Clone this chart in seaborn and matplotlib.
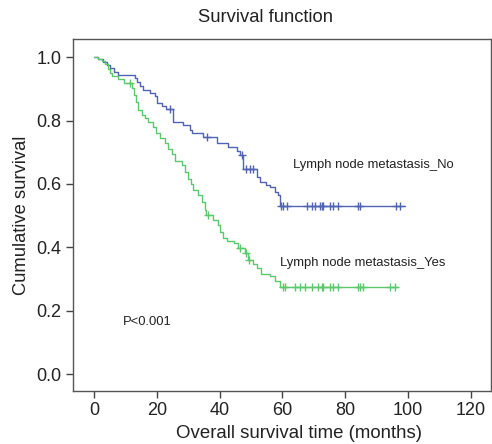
import numpy as np
import pandas as pd
import matplotlib
matplotlib.use("Agg")
import matplotlib.pyplot as plt
import seaborn as sns

# Kaplan-Meier steps (time in months, survival after step)
no_times = [0, 1.3, 2.9, 4.1, 5.1, 6.4, 7.6, 13.0, 13.7, 14.6, 15.6, 17.8, 19.4, 20.1, 21.6, 22.9,
            25.1, 28.3, 30.6, 31.2, 34.7, 39.1, 42.6, 45.5, 46.5, 47.4, 51.9, 52.8, 54.7, 56.0,
            57.6, 58.6, 59.2, 99.0]
no_surv = [1.0, 0.994, 0.984, 0.975, 0.965, 0.953, 0.943, 0.934, 0.921, 0.909, 0.896, 0.886, 0.877,
           0.855, 0.845, 0.836, 0.795, 0.785, 0.770, 0.760, 0.748, 0.729, 0.716, 0.703, 0.691,
           0.647, 0.621, 0.606, 0.596, 0.590, 0.574, 0.565, 0.530, 0.530]
no_censored = [24.2, 36.0, 47.0, 48.4, 49.6, 50.6, 59.5, 60.2, 61.4, 67.8, 69.4, 70.3, 71.9, 72.6,
               72.9, 75.1, 76.1, 77.7, 84.0, 84.7, 96.1, 97.4]

yes_times = [0, 1.3, 2.5, 3.5, 4.5, 5.1, 5.7, 7.6, 9.5, 12.1, 12.7, 13.4, 14.0, 15.3, 16.2, 17.2,
             18.8, 19.7, 21.0, 22.6, 23.6, 24.8, 25.8, 28.0, 29.0, 29.9, 30.9, 31.5, 33.1, 34.4,
             35.3, 35.6, 37.9, 39.5, 40.1, 41.1, 42.3, 44.6, 45.8, 48.1, 49.0, 50.6, 51.9, 53.2,
             56.0, 57.6, 59.2, 96.8]
yes_surv = [1.0, 0.994, 0.987, 0.978, 0.962, 0.950, 0.940, 0.931, 0.918, 0.902, 0.880, 0.858, 0.833,
            0.817, 0.808, 0.795, 0.779, 0.760, 0.744, 0.729, 0.710, 0.694, 0.672, 0.659, 0.637,
            0.615, 0.599, 0.580, 0.565, 0.543, 0.517, 0.502, 0.486, 0.470, 0.448, 0.429, 0.420,
            0.413, 0.397, 0.382, 0.360, 0.347, 0.334, 0.315, 0.309, 0.293, 0.274, 0.274]
yes_censored = [11.5, 36.3, 46.5, 48.5, 49.3, 60.2, 60.8, 64.0, 65.6, 67.2, 69.4, 71.3, 72.6, 72.9,
                75.1, 76.1, 77.7, 84.0, 84.7, 85.6, 94.2, 95.8]

x_ticks = [0, 20, 40, 60, 80, 100, 120]
y_ticks = [0.0, 0.2, 0.4, 0.6, 0.8, 1.0]

blue = '#5064b4'
green = '#5cc86c'

sns.set_style("white")
plt.rcParams['font.family'] = ['Liberation Sans', 'DejaVu Sans']

fig = plt.figure(figsize=(4.92, 4.44), dpi=100)
ax = fig.add_axes([0.148, 0.119, 0.85, 0.793])


def surv_at(times, surv, t):
    idx = np.searchsorted(times, t, side='right') - 1
    return np.array(surv)[idx]


for times, surv, cens, col in [(no_times, no_surv, no_censored, blue),
                               (yes_times, yes_surv, yes_censored, green)]:
    sns.lineplot(x=times, y=surv, drawstyle='steps-post', estimator=None, sort=False,
                 color=col, lw=1.0, ax=ax)
    cdf = pd.DataFrame({'t': cens, 's': surv_at(times, surv, cens)})
    sns.scatterplot(data=cdf, x='t', y='s', marker='+', s=40, color=col, linewidth=1.0, ax=ax)

ax.set_xlim(-6.7, 126.4)
ax.set_ylim(-0.054, 1.057)
ax.set_xticks(x_ticks)
ax.set_yticks(y_ticks)
ax.set_xticklabels([str(v) for v in x_ticks], fontsize=13, color='#222222')
ax.set_yticklabels([f"{v:.1f}" for v in y_ticks], fontsize=13, color='#222222')
ax.tick_params(direction='out', length=5, width=1, pad=3, color='#444444', bottom=True, left=True)
for sp in ax.spines.values():
    sp.set_color('#555555')
    sp.set_linewidth(1.0)
ax.set_xlabel('')
ax.set_ylabel('')

ax.text(63.3, 0.659, 'Lymph node metastasis_No', fontsize=9.4, va='center', color='#222222')
ax.text(59.2, 0.35, 'Lymph node metastasis_Yes', fontsize=9.4, va='center', color='#222222')
ax.text(9.2, 0.164, 'P<0.001', fontsize=9.4, va='center', color='#222222')

fig.text(265 / 492, 1 - 18 / 444, 'Survival function', ha='center', va='center', fontsize=13.2,
         color='#222222')
fig.text(299 / 492, 1 - 433 / 444, 'Overall survival time (months)', ha='center', va='center',
         fontsize=13.4, color='#222222')
fig.text(22 / 492, 1 - 215 / 444, 'Cumulative survival', ha='center', va='center', rotation=90,
         fontsize=13.2, color='#222222')

fig.savefig('out.png', dpi=100)
